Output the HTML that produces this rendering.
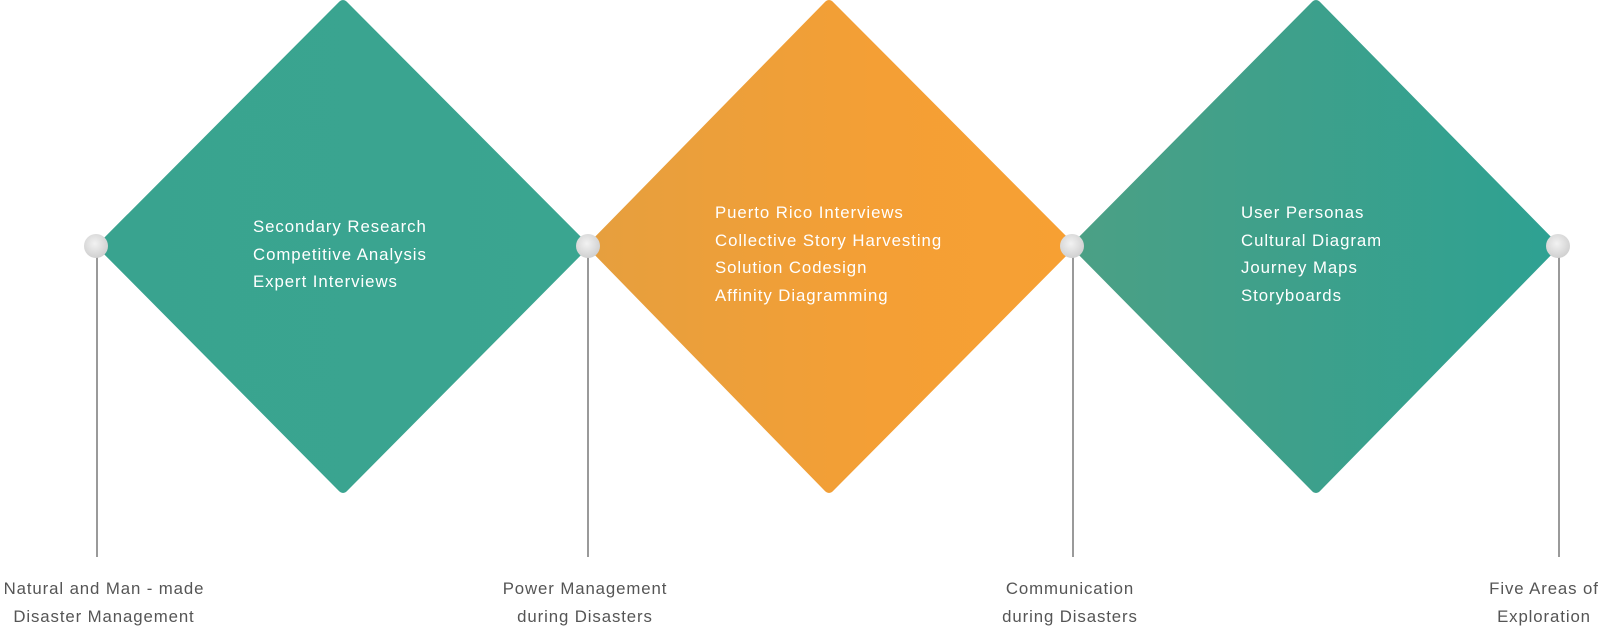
<!DOCTYPE html>
<html><head><meta charset="utf-8"><style>
html,body{margin:0;padding:0;background:#fff;width:1600px;height:627px;overflow:hidden;position:relative;font-family:"Liberation Sans",sans-serif}
.t{position:absolute;color:#fff;font-size:16.8px;line-height:27.7px;letter-spacing:0.95px;white-space:nowrap}
.l{position:absolute;color:#555;font-size:16.8px;line-height:28px;text-align:center;white-space:nowrap;letter-spacing:0.9px}
</style></head><body>
<svg width="1600" height="627" style="position:absolute;left:0;top:0">
<defs>
<linearGradient id="g1" x1="0" x2="1"><stop offset="0" stop-color="#39a38f"/><stop offset="1" stop-color="#3aa590"/></linearGradient>
<linearGradient id="g2" x1="0" x2="1"><stop offset="0" stop-color="#e69f3e"/><stop offset="0.6" stop-color="#f49f35"/><stop offset="1" stop-color="#f7a033"/></linearGradient>
<linearGradient id="g3" x1="0" x2="1"><stop offset="0" stop-color="#4ba085"/><stop offset="1" stop-color="#2ea192"/></linearGradient>
<radialGradient id="c" cx="0.45" cy="0.4" r="0.6"><stop offset="0" stop-color="#f2f2f2"/><stop offset="1" stop-color="#d0d0d0"/></radialGradient>
</defs>
<g stroke-linejoin="round" stroke-width="10">
<polygon points="343,5 583,246 343,488 103,246" fill="url(#g1)" stroke="url(#g1)"/>
<polygon points="829,5 1069,246 829,488 593,246" fill="url(#g2)" stroke="url(#g2)"/>
<polygon points="1316,5 1553,246 1316,488 1077,246" fill="url(#g3)" stroke="url(#g3)"/>
</g>
<g stroke="#9a9a9a" stroke-width="2">
<line x1="97" y1="246" x2="97" y2="557"/>
<line x1="588" y1="246" x2="588" y2="557"/>
<line x1="1073" y1="246" x2="1073" y2="557"/>
<line x1="1559" y1="246" x2="1559" y2="557"/>
</g>
<g fill="url(#c)">
<circle cx="96" cy="246" r="12"/>
<circle cx="588" cy="246" r="12"/>
<circle cx="1072" cy="246" r="12"/>
<circle cx="1558" cy="246" r="12"/>
</g>
</svg>
<div class="t" style="left:253px;top:213px">Secondary Research<br>Competitive Analysis<br>Expert Interviews</div>
<div class="t" style="left:715px;top:199px">Puerto Rico Interviews<br>Collective Story Harvesting<br>Solution Codesign<br>Affinity Diagramming</div>
<div class="t" style="left:1241px;top:199px">User Personas<br>Cultural Diagram<br>Journey Maps<br>Storyboards</div>
<div class="l" style="left:-46px;width:300px;top:575px">Natural and Man - made<br>Disaster Management</div>
<div class="l" style="left:435px;width:300px;top:575px">Power Management<br>during Disasters</div>
<div class="l" style="left:920px;width:300px;top:575px">Communication<br>during Disasters</div>
<div class="l" style="left:1444px;width:200px;top:575px">Five Areas of<br>Exploration</div>
</body></html>
